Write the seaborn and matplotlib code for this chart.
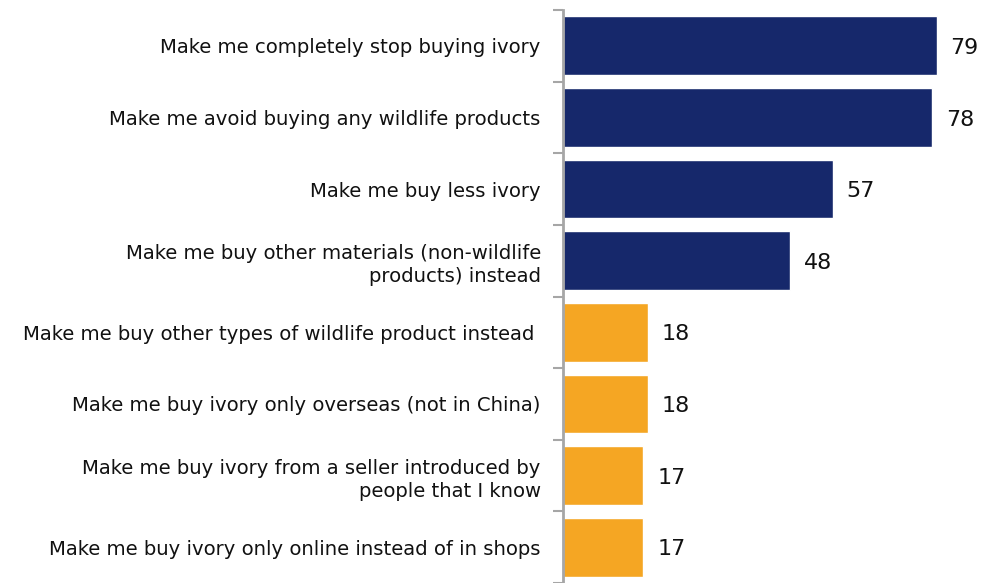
import matplotlib
matplotlib.use("Agg")
import matplotlib.pyplot as plt
import numpy as np
import pandas as pd
import seaborn as sns

# data
labels = [
    "Make me completely stop buying ivory",
    "Make me avoid buying any wildlife products",
    "Make me buy less ivory",
    "Make me buy other materials (non-wildlife\nproducts) instead",
    "Make me buy other types of wildlife product instead ",
    "Make me buy ivory only overseas (not in China)",
    "Make me buy ivory from a seller introduced by\npeople that I know",
    "Make me buy ivory only online instead of in shops",
]
values = [79, 78, 57, 48, 18, 18, 17, 17]
group = ["top", "top", "top", "top", "low", "low", "low", "low"]

df = pd.DataFrame({"label": labels, "value": values, "group": group})

sns.set_theme(style="white")
plt.rcParams["font.family"] = ["DejaVu Sans"]

fig = plt.figure(figsize=(9.87, 5.83), dpi=100)
ax = fig.add_axes([563 / 987, 0, 424 / 987, 573 / 583])

sns.barplot(
    data=df, y="label", x="value", hue="group", orient="h",
    palette={"top": "#16286b", "low": "#f5a623"},
    width=0.82, dodge=False, legend=False, ax=ax, saturation=1,
)

ax.set_xlim(0, 89.6)
ax.set_ylim(len(labels) - 0.5, -0.5)
ax.set_xlabel("")
ax.set_ylabel("")
ax.set_xticks([])

# value labels
for i, v in enumerate(values):
    ax.text(v + 2.9, i + 0.03, str(v), va="center", ha="left", fontsize=16, color="#111111")

# category labels and boundary ticks
ax.set_yticks(range(len(labels)))
ax.set_yticklabels(labels, fontsize=14.1, color="#111111", linespacing=1.3)
ax.tick_params(axis="y", which="major", length=0, pad=16)
ax.set_yticks(np.arange(-0.5, len(labels), 1), minor=True)
ax.tick_params(axis="y", which="minor", length=7, width=1.5, color="#a6a6a6", left=True)

for s in ["top", "right", "bottom"]:
    ax.spines[s].set_visible(False)
ax.spines["left"].set_color("#a6a6a6")
ax.spines["left"].set_linewidth(2)

fig.savefig("out.png", dpi=100)
